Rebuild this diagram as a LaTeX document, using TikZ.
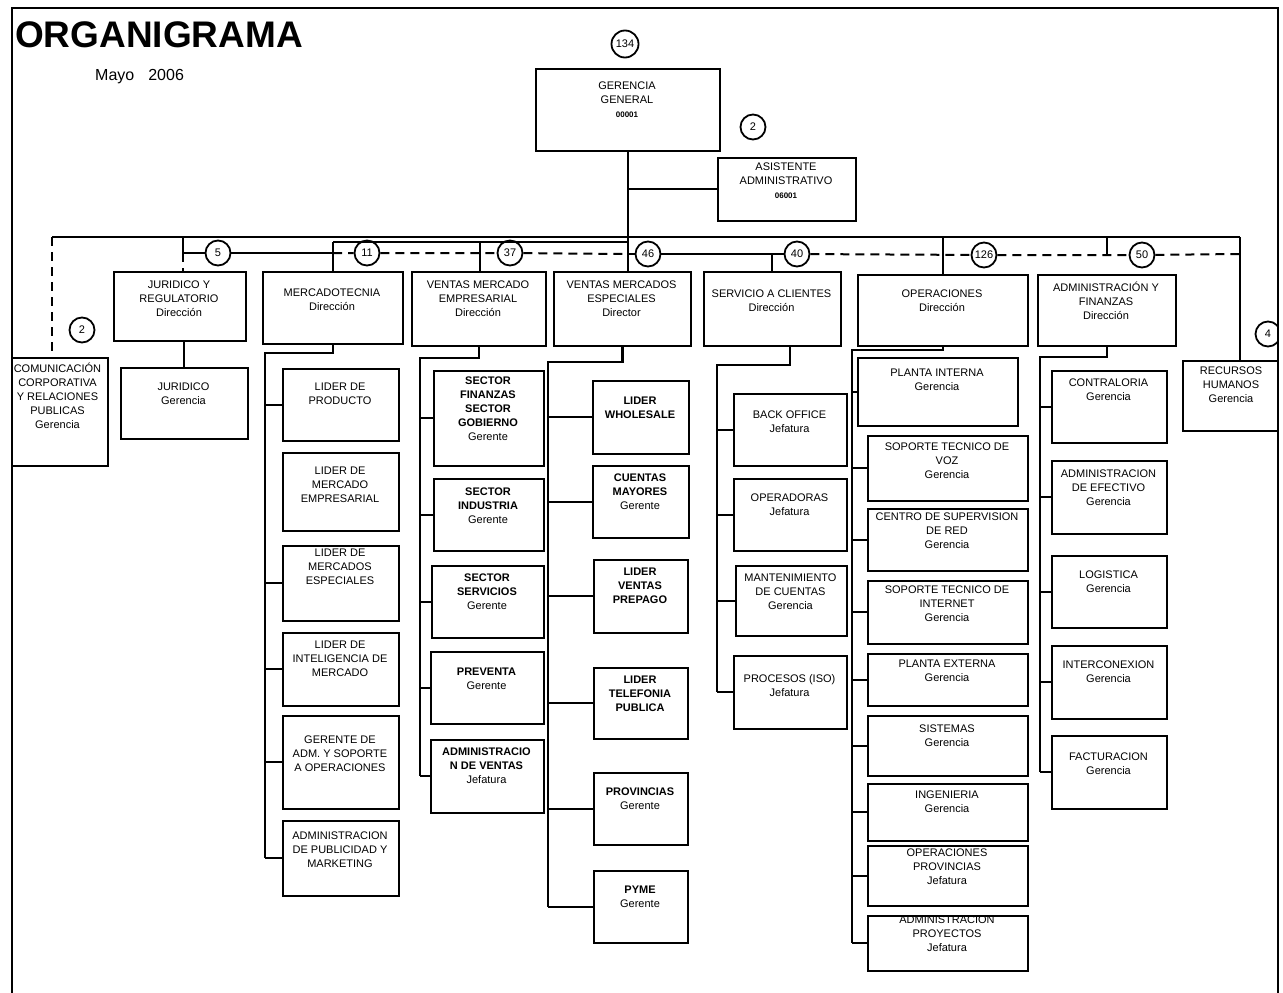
\documentclass[tikz,border=0pt]{standalone}
\usepackage{fontspec}
\setmainfont{Liberation Sans}
\usetikzlibrary{calc}

\tikzset{
  box/.style={draw, line width=1.8pt, inner sep=0pt, anchor=north west},
  lbl/.style={anchor=north, inner sep=0pt, align=center, font=\fontsize{11}{14}\selectfont},
  wire/.style={line width=2pt},
  bus/.style={line width=2.8pt},
  dwire/.style={line width=2pt, dash pattern=on 9pt off 6pt},
  num/.style={draw, circle, line width=1.8pt, minimum size=25pt, inner sep=0pt, fill=white, font=\fontsize{11}{12}\selectfont},
}

% \orgbox{name}{x1}{y1}{x2}{y2}{first line y}{text}
\newcommand\orgbox[7]{%
  \node[box, minimum width={(#4-#2)*1pt}, minimum height={(#5-#3)*1pt}] (#1) at (#2,#3) {};
  \node[lbl] (#1-t) at ({(#2+#4)/2},{#6-4}) {#7};
}

\begin{document}
\begin{tikzpicture}[x=1pt, y=-1pt]
\useasboundingbox (0,0) rectangle (1283,993);

\begin{scope}
\clip (12,0) rectangle (1278,993);

% title
\node[anchor=base west, inner sep=0pt, font=\fontsize{37}{42}\selectfont\bfseries] (title) at (15,47) {ORGANIGRAMA};
\node[anchor=base west, inner sep=0pt, font=\fontsize{16}{18}\selectfont] (date) at (95,80) {Mayo\hspace{14pt}2006};

% top management
\orgbox{gg}{535}{68}{719}{150}{86}{GERENCIA\\GENERAL\\{\fontsize{8}{10}\selectfont\bfseries 00001}}
\orgbox{asis}{717}{157}{855}{220}{167}{ASISTENTE\\ADMINISTRATIVO\\{\fontsize{8}{10}\selectfont\bfseries 06001}}

% directions
\orgbox{jur}{113}{271}{245}{340}{285}{JURIDICO Y\\REGULATORIO\\Dirección}
\orgbox{mkt}{262}{271}{402}{343}{293}{MERCADOTECNIA\\Dirección}
\orgbox{vem}{411}{271}{545}{345}{285}{VENTAS MERCADO\\EMPRESARIAL\\Dirección}
\orgbox{ves}{553}{271}{690}{345}{285}{VENTAS MERCADOS\\ESPECIALES\\Director}
\orgbox{scl}{703}{271}{840}{345}{294}{SERVICIO A CLIENTES\\Dirección}
\orgbox{ope}{857}{274}{1027}{345}{294}{OPERACIONES\\Dirección}
\orgbox{adf}{1037}{274}{1175}{345}{286}{ADMINISTRACIÓN Y\\FINANZAS\\Dirección}

% staff units
\orgbox{com}{8}{357}{107}{465}{367}{COMUNICACIÓN\\CORPORATIVA\\Y RELACIONES\\PUBLICAS\\Gerencia}
\orgbox{rh}{1182}{360}{1280}{430}{371}{RECURSOS\\HUMANOS\\Gerencia}
\orgbox{jurg}{120}{367}{247}{438}{387}{JURIDICO\\Gerencia}

% mercadotecnia
\orgbox{mk1}{282}{368}{398}{440}{387}{LIDER DE\\PRODUCTO}
\orgbox{mk2}{282}{452}{398}{530}{471}{LIDER DE\\MERCADO\\EMPRESARIAL}
\orgbox{mk3}{282}{545}{398}{620}{553}{LIDER DE\\MERCADOS\\ESPECIALES}
\orgbox{mk4}{282}{632}{398}{705}{645}{LIDER DE\\INTELIGENCIA DE\\MERCADO}
\orgbox{mk5}{282}{715}{398}{808}{740}{GERENTE DE\\ADM. Y SOPORTE\\A OPERACIONES}
\orgbox{mk6}{282}{820}{398}{895}{836}{ADMINISTRACION\\DE PUBLICIDAD Y\\MARKETING}

% ventas mercado empresarial
\orgbox{ve1}{433}{370}{543}{465}{381}{\textbf{SECTOR}\\\textbf{FINANZAS}\\\textbf{SECTOR}\\\textbf{GOBIERNO}\\Gerente}
\orgbox{ve2}{433}{478}{543}{550}{492}{\textbf{SECTOR}\\\textbf{INDUSTRIA}\\Gerente}
\orgbox{ve3}{431}{565}{543}{637}{578}{\textbf{SECTOR}\\\textbf{SERVICIOS}\\Gerente}
\orgbox{ve4}{430}{651}{543}{723}{672}{\textbf{PREVENTA}\\Gerente}
\orgbox{ve5}{430}{739}{543}{812}{752}{\textbf{ADMINISTRACIO}\\\textbf{N DE VENTAS}\\Jefatura}

% ventas mercados especiales
\orgbox{vs1}{592}{380}{688}{453}{401}{\textbf{LIDER}\\\textbf{WHOLESALE}}
\orgbox{vs2}{592}{465}{688}{537}{478}{\textbf{CUENTAS}\\\textbf{MAYORES}\\Gerente}
\orgbox{vs3}{593}{559}{687}{632}{572}{\textbf{LIDER}\\\textbf{VENTAS}\\\textbf{PREPAGO}}
\orgbox{vs4}{593}{667}{687}{738}{680}{\textbf{LIDER}\\\textbf{TELEFONIA}\\\textbf{PUBLICA}}
\orgbox{vs5}{593}{772}{687}{844}{792}{\textbf{PROVINCIAS}\\Gerente}
\orgbox{vs6}{593}{870}{687}{942}{890}{\textbf{PYME}\\Gerente}

% servicio a clientes
\orgbox{sc1}{733}{393}{846}{465}{415}{BACK OFFICE\\Jefatura}
\orgbox{sc2}{733}{478}{846}{550}{498}{OPERADORAS\\Jefatura}
\orgbox{sc3}{735}{565}{846}{635}{578}{MANTENIMIENTO\\DE CUENTAS\\Gerencia}
\orgbox{sc4}{733}{655}{846}{728}{678}{PROCESOS (ISO)\\Jefatura}

% operaciones
\orgbox{op1}{857}{357}{1017}{425}{373}{PLANTA INTERNA\\Gerencia}
\orgbox{op2}{867}{435}{1027}{500}{447}{SOPORTE TECNICO DE\\VOZ\\Gerencia}
\orgbox{op3}{867}{508}{1027}{570}{517}{CENTRO DE SUPERVISION\\DE RED\\Gerencia}
\orgbox{op4}{867}{580}{1027}{643}{590}{SOPORTE TECNICO DE\\INTERNET\\Gerencia}
\orgbox{op5}{867}{653}{1027}{705}{664}{PLANTA EXTERNA\\Gerencia}
\orgbox{op6}{867}{715}{1027}{775}{729}{SISTEMAS\\Gerencia}
\orgbox{op7}{867}{783}{1027}{840}{795}{INGENIERIA\\Gerencia}
\orgbox{op8}{867}{845}{1027}{905}{853}{OPERACIONES\\PROVINCIAS\\Jefatura}
\orgbox{op9}{867}{915}{1027}{970}{920}{ADMINISTRACION\\PROYECTOS\\Jefatura}

% administracion y finanzas
\orgbox{af1}{1051}{370}{1166}{442}{383}{CONTRALORIA\\Gerencia}
\orgbox{af2}{1051}{460}{1166}{533}{474}{ADMINISTRACION\\DE EFECTIVO\\Gerencia}
\orgbox{af3}{1051}{555}{1166}{627}{575}{LOGISTICA\\Gerencia}
\orgbox{af4}{1051}{645}{1166}{718}{665}{INTERCONEXION\\Gerencia}
\orgbox{af5}{1051}{735}{1166}{808}{757}{FACTURACION\\Gerencia}

% headcount circles
\node[num, minimum size=27pt] (c134) at (625,44) {134};
\node[num] (c2a) at (753,127) {2};
\node[num] (c2b) at (82,330) {2};
\node[num] (c5) at (218,253) {5};
\node[num] (c11) at (367,253) {11};
\node[num] (c37) at (510,253) {37};
\node[num] (c46) at (648,254) {46};
\node[num] (c40) at (797,254) {40};
\node[num] (c126) at (984,255) {126};
\node[num] (c50) at (1142,255) {50};
\node[num] (c4) at (1268,334) {4};

% junction points
\coordinate (tl-l) at (52,237);
\coordinate (tl-r) at (1240,237);
\coordinate (j-top) at (183,237);
\coordinate (j-mid) at (183,253);
\coordinate (m-top) at (333,242);
\coordinate (m-mid) at (333,253);
\coordinate (v-top) at (480,242);
\coordinate (g-sec) at (627,242);
\coordinate (g-mid) at (627,254);
\coordinate (s-mid) at (772,254);
\coordinate (o-top) at (943,237);
\coordinate (a-top) at (1107,237);
\coordinate (a-mid) at (1107,254);
\coordinate (r-mid) at (1240,254);

% general management spine
\draw[wire] (gg.south) -- (gg.south |- ves.north);
\draw[wire] (gg.south |- asis.west) -- (asis.west);

% upper distribution lines
\draw[wire] (tl-l) -- (tl-r);
\draw[dwire] (tl-l) -- (tl-l |- com.north);
\draw[wire] (m-top) -- (g-sec);
\draw[wire] (j-top) -- (j-mid);
\draw[dwire] (j-mid) -- (j-mid |- jur.north);
\draw[wire] (j-mid) -- (c5) -- (m-mid);
\draw[wire] (m-top) -- (m-top |- mkt.north);
\draw[dwire] (m-mid) -- (c11) -- (c37) -- (g-mid);
\draw[wire] (v-top) -- (v-top |- vem.north);
\draw[wire] (g-mid) -- (c46) -- (s-mid) -- (c40);
\draw[wire] (s-mid) -- (s-mid |- scl.north);
\draw[dwire] (c40) -- (c126) -- (c50) -- (r-mid);
\draw[wire] (o-top) -- (o-top |- ope.north);
\draw[wire] (a-top) -- (a-mid);
\draw[wire] (tl-r) -- (tl-r |- rh.north);

% juridico
\draw[wire] (jurg.north |- jur.south) -- (jurg.north);

% mercadotecnia
\coordinate (mk-b) at (265,353);
\draw[wire] (mkt.south) |- (mk-b) -- (mk-b |- mk6.west);
\foreach \c in {mk1,mk3,mk4,mk5,mk6} \draw[wire] (mk-b |- \c.west) -- (\c.west);

% ventas mercado empresarial
\coordinate (ve-b) at (420,358);
\draw[wire] (vem.south) |- (ve-b) -- (ve-b |- ve5.west);
\foreach \c in {ve1,ve2,ve3,ve4,ve5} \draw[wire] (ve-b |- \c.west) -- (\c.west);

% ventas mercados especiales
\coordinate (vs-b) at (548,362);
\draw[bus] (ves.south) |- (vs-b) -- (vs-b |- vs6.west);
\foreach \c in {vs1,vs2,vs3,vs4,vs5,vs6} \draw[wire] (vs-b |- \c.west) -- (\c.west);

% servicio a clientes
\coordinate (sc-k) at (790,365);
\coordinate (sc-b) at (717,365);
\draw[wire] (sc-k |- scl.south) -- (sc-k) -- (sc-b) -- (sc-b |- sc4.west);
\foreach \c in {sc1,sc2,sc3,sc4} \draw[wire] (sc-b |- \c.west) -- (\c.west);

% operaciones
\coordinate (op-b) at (852,350);
\draw[bus] (ope.south) |- (op-b) -- (op-b |- op9.west);
\foreach \c in {op1,op2,op3,op4,op5,op6,op7,op8,op9} \draw[wire] (op-b |- \c.west) -- (\c.west);

% administracion y finanzas
\coordinate (af-b) at (1040,357);
\draw[bus] (adf.south) |- (af-b) -- (af-b |- af5.west);
\foreach \c in {af1,af2,af3,af4,af5} \draw[wire] (af-b |- \c.west) -- (\c.west);
\end{scope}

% page frame
\draw[line width=2pt] (12,993) -- (12,8) -- (1278,8) -- (1278,993);
\end{tikzpicture}
\end{document}
